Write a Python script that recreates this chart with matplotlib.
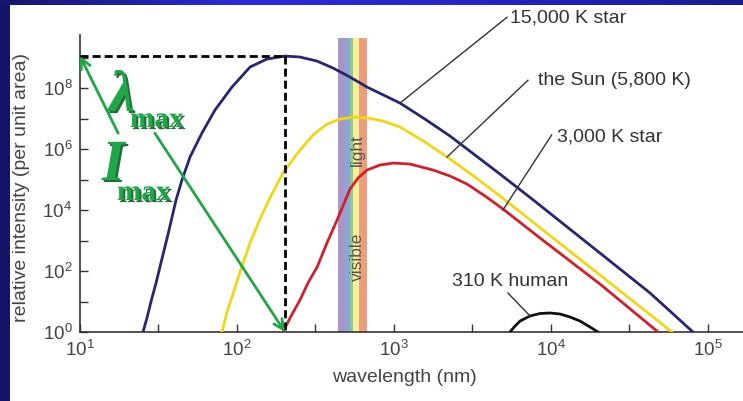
import numpy as np
import matplotlib
matplotlib.use("Agg")
from matplotlib import pyplot as plt
from matplotlib.patches import Rectangle
from matplotlib.colors import LinearSegmentedColormap
import matplotlib.patheffects as pe

plt.rcParams['font.family'] = ['Liberation Sans', 'DejaVu Sans']
plt.rcParams['mathtext.fontset'] = 'custom'
plt.rcParams['mathtext.rm'] = 'Liberation Sans'
plt.rcParams['mathtext.it'] = 'Liberation Sans:italic'
plt.rcParams['mathtext.bf'] = 'Liberation Sans:bold'

# curves: wavelength (nm), relative intensity
wl_15000 = [25.2, 26.7, 28.5, 30.5, 32.3, 36.4, 40.9, 44.6, 50.2, 59.8, 72.4, 92.9,
            121, 155, 202, 252, 323, 409, 525, 673, 1092, 1574, 2275, 3281, 4732,
            7570, 20500, 42760, 80200]
I_15000 = [1.0, 2.88, 11.2, 40.4, 135, 1633, 2.13e4, 9.6e4, 5.47e5, 3.35e6, 1.90e7,
           1.08e8, 4.88e8, 8.93e8, 1.12e9, 1.04e9, 7.68e8, 4.53e8, 2.29e8, 1.08e8,
           3.22e7, 9.6e6, 2.67e6, 6.36e5, 1.51e5, 2.30e4, 389, 19, 1.0]

wl_sun = [80.3, 86.4, 94.3, 104.5, 121, 140, 162, 196, 252, 305, 374, 453, 548, 683,
          851, 1092, 1574, 2275, 3281, 4732, 8890, 20500, 59000]
I_sun = [1.0, 4.53, 17.6, 92.7, 828, 5070, 2.47e4, 1.63e5, 9.27e5, 2.88e6, 6.6e6,
         9.6e6, 1.12e7, 1.04e7, 8.28e6, 5.27e6, 1.70e6, 4.70e5, 1.21e5, 2.88e4, 2210,
         74, 1.0]

wl_3000 = [196, 221, 252, 283, 324, 374, 434, 525, 590, 673, 815, 986, 1265, 1771,
           2275, 2918, 3802, 4943, 8511, 20500, 48080]
I_3000 = [1.0, 3.35, 11.2, 40.4, 135, 828, 4700, 4.88e4, 1.12e5, 2.05e5, 2.99e5,
          3.47e5, 3.22e5, 2.05e5, 1.30e5, 7.11e4, 2.88e4, 1.08e4, 1208, 37.5, 1.0]

wl_human = [5480, 5902, 6353, 7350, 8511, 9854, 11410, 13210, 15300, 17710, 19910]
I_human = [1.0, 1.57, 2.29, 3.35, 4.04, 4.20, 3.89, 3.10, 2.29, 1.46, 1.0]

# visible band stripes (nm)
band_edges = [440, 491, 524, 552, 598, 673]
band_colors = ['#a996c8', '#8aa8d6', '#92c88e', '#f7f09a', '#ec9e7c']

x_labels = ['10$^{1}$', '10$^{2}$', '10$^{3}$', '10$^{4}$', '10$^{5}$']
y_labels = ['10$^{0}$', '10$^{2}$', '10$^{4}$', '10$^{6}$', '10$^{8}$']

W, H = 743, 401
fig = plt.figure(figsize=(W / 100, H / 100), dpi=100)
ax = fig.add_axes([80 / W, 1 - 332 / H, 663 / W, 297 / H])
ax.set_xscale('log')
ax.set_yscale('log')
ax.set_xlim(10, 10 ** 5.223)
ax.set_ylim(1, 10 ** 9.74)

for i in range(len(band_colors)):
    ax.axvspan(band_edges[i], band_edges[i + 1], ymin=0, ymax=0.99,
               color=band_colors[i], lw=0, zorder=1)

ax.text(581, 9.3e5, 'light', rotation=90, ha='center', va='center',
        fontsize=12.5, color='#555555', zorder=2)
ax.text(581, 288, 'visible', rotation=90, ha='center', va='center',
        fontsize=12.5, color='#555555', zorder=2)

ax.plot(wl_15000, I_15000, color='#27276f', lw=2, zorder=3)
ax.plot(wl_sun, I_sun, color='#f0d614', lw=2, zorder=3)
ax.plot(wl_3000, I_3000, color='#d11f2b', lw=2, zorder=3)
ax.plot(wl_human, I_human, color='#111111', lw=2, zorder=3)

# peak of the hottest star, dashed guide lines
k = int(np.argmax(I_15000))
peak_wl, peak_I = wl_15000[k], I_15000[k]
ax.plot([10, peak_wl], [peak_I, peak_I], color='k', lw=2, dashes=(2.9, 1.45),
        zorder=4, clip_on=False)
ax.plot([peak_wl, peak_wl], [peak_I, 1], color='k', lw=2, dashes=(2.9, 1.45),
        zorder=4, clip_on=False)

green = '#1fa647'
ax.annotate('', xy=(10, peak_I), xytext=(17.5, 3.3e6), annotation_clip=False,
            arrowprops=dict(arrowstyle='->,head_length=0.7,head_width=0.35',
                            color=green, lw=2, shrinkA=0, shrinkB=0), zorder=5)
ax.annotate('', xy=(peak_wl, 1), xytext=(30, 3.3e6), annotation_clip=False,
            arrowprops=dict(arrowstyle='->,head_length=0.7,head_width=0.35',
                            color=green, lw=2, shrinkA=0, shrinkB=0), zorder=5)

shadow = [pe.SimplePatchShadow(offset=(1.5, -1.5), shadow_rgbFace='#0b5a28', alpha=0.9),
          pe.Normal()]
fig.text(109 / W, 1 - 111 / H, 'λ', fontsize=42, family='Liberation Serif',
         style='italic', weight='bold', color=green, path_effects=shadow)
fig.text(130 / W, 1 - 127 / H, 'max', fontsize=21, family='Liberation Serif',
         weight='bold', color=green, path_effects=shadow)
fig.text(102 / W, 1 - 180 / H, 'I', fontsize=42, family='Liberation Serif',
         style='italic', weight='bold', color=green, path_effects=shadow)
fig.text(117 / W, 1 - 200 / H, 'max', fontsize=21, family='Liberation Serif',
         weight='bold', color=green, path_effects=shadow)

# leader lines and labels
lead = dict(color='#333333', lw=1, clip_on=False, zorder=4)
ax.plot([1092, 5250], [3.22e7, 2.1e10], **lead)
ax.text(5480, 2.0e10, '15,000 K star', fontsize=14, color='#333333', va='center')
ax.plot([2180, 7130], [5.5e5, 1.8e8], **lead)
ax.text(8260, 1.8e8, 'the Sun (5,800 K)', fontsize=14, color='#333333', va='center')
ax.plot([4940, 10100], [1.0e4, 2.9e6], **lead)
ax.text(10900, 2.5e6, '3,000 K star', fontsize=14, color='#333333', va='center')
ax.plot([7350, 5320], [3.35, 19], **lead)
ax.text(2340, 44, '310 K human', fontsize=14, color='#333333', va='center')

ax.spines['top'].set_visible(False)
ax.spines['right'].set_visible(False)
for s in ['left', 'bottom']:
    ax.spines[s].set_color('#333333')
    ax.spines[s].set_linewidth(1.2)

xt = [10 ** (d / 2) for d in range(2, 11)]
ax.set_xticks(xt)
ax.set_xticklabels([x_labels[j // 2] if j % 2 == 0 else '' for j in range(len(xt))])
ax.set_xticks([], minor=True)
yt = [10.0 ** d for d in range(0, 10)]
ax.set_yticks(yt)
ax.set_yticklabels([y_labels[d // 2] if d % 2 == 0 else '' for d in range(10)])
ax.set_yticks([], minor=True)
ax.tick_params(direction='in', length=6, width=1, color='#333333',
               labelcolor='#444444', labelsize=13.5, pad=5.5)

ax.set_xlabel('wavelength (nm)', fontsize=14, color='#444444')
ax.xaxis.set_label_coords(0.49, -0.152)
ax.set_ylabel('relative intensity (per unit area)', fontsize=14, color='#444444')
ax.yaxis.set_label_coords(-0.0875, 0.488)
ax.xaxis.label.set_va('center')
ax.yaxis.label.set_va('center')

# slide frame: gradient band on top, navy band on the left
cmap = LinearSegmentedColormap.from_list('band', ['#16166c', '#2a2ade', '#2424c4', '#1a1a96'])
top = fig.add_axes([0, 1 - 5 / H, 1, 5 / H])
top.imshow(np.linspace(0, 1, 256)[None, :], aspect='auto', cmap=cmap)
top.axis('off')
fig.add_artist(Rectangle((0, 0), 10 / W, 1 - 5 / H, transform=fig.transFigure,
                         color='#141466', lw=0))

plt.savefig('out.png', dpi=100)
